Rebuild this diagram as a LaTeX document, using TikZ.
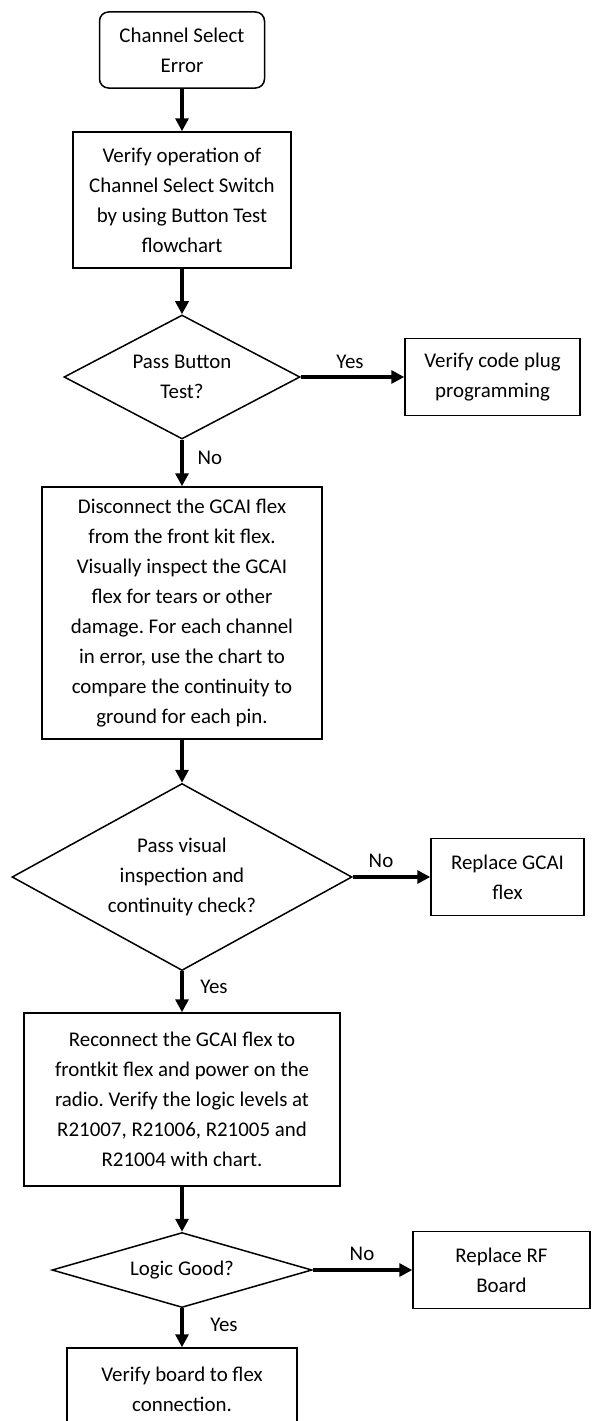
\documentclass[tikz,border=0pt]{standalone}
\usepackage{fontspec}
\setmainfont{Carlito}
\usepackage{tikz}
\usetikzlibrary{arrows.meta,positioning,shapes,calc}
\frenchspacing
\newcommand{\flowfont}{\fontsize{20.9}{30}\selectfont}
\tikzset{
  procbox/.style={draw, line width=1.5pt, inner sep=0pt, align=center, font=\flowfont},
  termbox/.style={procbox, rounded corners=9pt},
  decbox/.style={draw, diamond, line width=1.5pt, inner sep=0pt, align=center, font=\flowfont},
  flowarrow/.style={line width=3.2pt, -{Triangle[length=13pt,width=13pt]}},
  lbl/.style={inner sep=0pt, font=\flowfont}
}

\begin{document}
\begin{tikzpicture}[x=1pt,y=-1pt]
        \useasboundingbox (0,0) rectangle (592,1421);
        \clip (0,0) rectangle (592,1421);
        % main column
        \node[termbox, minimum width=165pt, minimum height=76pt] (start) at (182,50) {Channel Select\\Error};
        \node[procbox, minimum width=218pt, minimum height=136pt] (verify) at (182,200) {Verify operation of\\Channel Select Switch\\by using Button Test\\flowchart};
        \node[decbox, aspect=1.9, minimum width=236pt, minimum height=124pt] (passbtn) at (182,377) {Pass Button\\Test?};
        \node[procbox, minimum width=280pt, minimum height=252pt] (disconnect) at (182,613) {Disconnect the GCAI flex\\from the front kit flex.\\Visually inspect the GCAI\\flex for tears or other\\damage. For each channel\\in error, use the chart to\\compare the continuity to\\ground for each pin.};
        \node[decbox, aspect=1.82, minimum width=340pt, minimum height=187pt] (passvis) at (182,877) {Pass visual\\inspection and\\continuity check?};
        \node[procbox, minimum width=316pt, minimum height=173pt] (reconnect) at (182,1099.5) {Reconnect the GCAI flex to\\frontkit flex and power on the\\radio. Verify the logic levels at\\R21007, R21006, R21005 and\\R21004 with chart.};
        \node[decbox, aspect=3.47, minimum width=260pt, minimum height=75pt] (logic) at (182,1270) {Logic Good?};
        \node[procbox, minimum width=230pt, minimum height=82pt] (flexconn) at (182,1389) {Verify board to flex\\connection.};
        % side boxes
        \node[procbox, minimum width=175pt, minimum height=77pt] (codeplug) at (492.5,377) {Verify code plug\\programming};
        \node[procbox, minimum width=153pt, minimum height=77pt] (gcai) at (507.5,877) {Replace GCAI\\flex};
        \node[procbox, minimum width=177pt, minimum height=77pt] (rfboard) at (501.5,1270) {Replace RF\\Board};

        \draw[flowarrow] (start) -- (verify);
        \draw[flowarrow] (verify) -- (passbtn);
        \draw[flowarrow] (passbtn) -- (codeplug);
        \draw[flowarrow] (passbtn) -- (disconnect);
        \draw[flowarrow] (disconnect) -- (passvis);
        \draw[flowarrow] (passvis) -- (gcai);
        \draw[flowarrow] (passvis) -- (reconnect);
        \draw[flowarrow] (reconnect) -- (logic);
        \draw[flowarrow] (logic) -- (rfboard);
        \draw[flowarrow] (logic) -- (flexconn);

        \node[lbl] (yes1) at (350,362) {Yes};
        \node[lbl] (no1) at (210,458) {No};
        \node[lbl] (no2) at (381,861) {No};
        \node[lbl] (yes2) at (214,987) {Yes};
        \node[lbl] (no3) at (362,1254) {No};
        \node[lbl] (yes3) at (224,1325) {Yes};
    \end{tikzpicture}
\end{document}
